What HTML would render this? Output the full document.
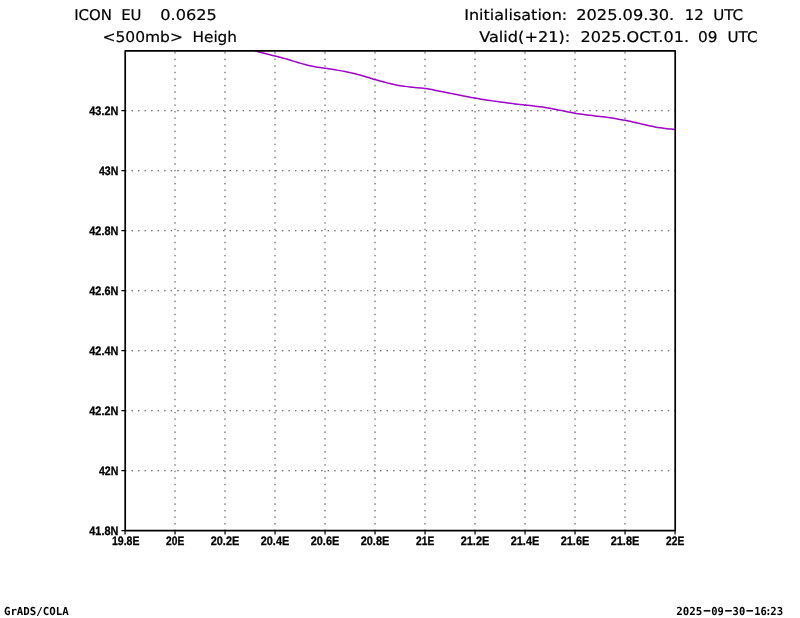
<!DOCTYPE html>
<html lang="en"><head><meta charset="utf-8"><title>ICON EU 500mb Height</title>
<style>
html,body{margin:0;padding:0;background:#fff;}
body{width:800px;height:618px;overflow:hidden;}
svg{display:block;}
text{font-family:"Liberation Sans",sans-serif;fill:#000;text-rendering:geometricPrecision;}
.t{font-size:14.7px;stroke:#000;stroke-width:0.2px;font-family:"DejaVu Sans","Liberation Sans",sans-serif;}
.a{font-size:12.2px;font-weight:bold;stroke:#000;stroke-width:0.3px;}
.f{font-size:11px;font-weight:bold;font-family:"DejaVu Sans Mono","Liberation Mono",monospace;}
</style></head><body>
<svg width="800" height="618" viewBox="0 0 800 618">
<rect width="800" height="618" fill="#fff"/>
<g stroke="#484848" stroke-width="1" stroke-dasharray="1.50 5.04" stroke-dashoffset="7.29" fill="none"><line x1="175.00" y1="530.30" x2="175.00" y2="50.90"/><line x1="225.00" y1="530.30" x2="225.00" y2="50.90"/><line x1="275.00" y1="530.30" x2="275.00" y2="50.90"/><line x1="325.00" y1="530.30" x2="325.00" y2="50.90"/><line x1="375.00" y1="530.30" x2="375.00" y2="50.90"/><line x1="425.00" y1="530.30" x2="425.00" y2="50.90"/><line x1="475.00" y1="530.30" x2="475.00" y2="50.90"/><line x1="525.00" y1="530.30" x2="525.00" y2="50.90"/><line x1="575.00" y1="530.30" x2="575.00" y2="50.90"/><line x1="625.00" y1="530.30" x2="625.00" y2="50.90"/><line x1="125.65" y1="470.75" x2="675.20" y2="470.75"/><line x1="125.65" y1="410.75" x2="675.20" y2="410.75"/><line x1="125.65" y1="350.75" x2="675.20" y2="350.75"/><line x1="125.65" y1="290.75" x2="675.20" y2="290.75"/><line x1="125.65" y1="230.75" x2="675.20" y2="230.75"/><line x1="125.65" y1="170.75" x2="675.20" y2="170.75"/><line x1="125.65" y1="110.75" x2="675.20" y2="110.75"/></g>
<path d="M255.00 50.80 C255.83 51.03 258.33 51.74 260.00 52.20 C261.67 52.66 263.33 53.12 265.00 53.55 C266.67 53.98 268.33 54.39 270.00 54.80 C271.67 55.21 273.33 55.59 275.00 56.00 C276.67 56.41 278.33 56.82 280.00 57.25 C281.67 57.68 283.33 58.13 285.00 58.60 C286.67 59.07 288.33 59.55 290.00 60.05 C291.67 60.55 293.33 61.08 295.00 61.60 C296.67 62.12 298.33 62.66 300.00 63.15 C301.67 63.64 303.33 64.12 305.00 64.55 C306.67 64.98 308.33 65.38 310.00 65.75 C311.67 66.12 313.33 66.45 315.00 66.75 C316.67 67.05 318.33 67.31 320.00 67.56 C321.67 67.81 323.33 68.02 325.00 68.25 C326.67 68.48 328.33 68.71 330.00 68.96 C331.67 69.22 333.33 69.50 335.00 69.78 C336.67 70.05 338.33 70.33 340.00 70.62 C341.67 70.92 343.33 71.22 345.00 71.55 C346.67 71.88 348.33 72.25 350.00 72.62 C351.67 73.00 353.33 73.40 355.00 73.80 C356.67 74.20 358.33 74.61 360.00 75.05 C361.67 75.49 363.33 75.96 365.00 76.45 C366.67 76.94 368.33 77.48 370.00 78.00 C371.67 78.52 373.33 79.05 375.00 79.55 C376.67 80.05 378.33 80.52 380.00 80.97 C381.67 81.43 383.33 81.86 385.00 82.29 C386.67 82.72 388.33 83.15 390.00 83.55 C391.67 83.95 393.33 84.36 395.00 84.71 C396.67 85.06 398.33 85.37 400.00 85.65 C401.67 85.93 403.33 86.15 405.00 86.38 C406.67 86.60 408.33 86.79 410.00 86.97 C411.67 87.16 413.33 87.33 415.00 87.50 C416.67 87.67 418.33 87.82 420.00 88.00 C421.67 88.18 423.33 88.35 425.00 88.58 C426.67 88.80 428.33 89.06 430.00 89.35 C431.67 89.64 433.33 89.97 435.00 90.30 C436.67 90.62 438.33 90.97 440.00 91.30 C441.67 91.63 443.33 91.97 445.00 92.30 C446.67 92.63 448.33 92.97 450.00 93.30 C451.67 93.63 453.33 93.95 455.00 94.27 C456.67 94.60 458.33 94.91 460.00 95.22 C461.67 95.54 463.33 95.87 465.00 96.19 C466.67 96.51 468.33 96.83 470.00 97.15 C471.67 97.47 473.33 97.78 475.00 98.09 C476.67 98.39 478.33 98.69 480.00 98.98 C481.67 99.26 483.33 99.52 485.00 99.78 C486.67 100.03 488.33 100.26 490.00 100.50 C491.67 100.74 493.33 100.97 495.00 101.20 C496.67 101.43 498.33 101.67 500.00 101.90 C501.67 102.13 503.33 102.37 505.00 102.60 C506.67 102.83 508.33 103.06 510.00 103.28 C511.67 103.49 513.33 103.70 515.00 103.90 C516.67 104.10 518.33 104.31 520.00 104.50 C521.67 104.69 523.33 104.88 525.00 105.06 C526.67 105.24 528.33 105.40 530.00 105.59 C531.67 105.77 533.33 105.96 535.00 106.16 C536.67 106.36 538.33 106.57 540.00 106.79 C541.67 107.00 543.33 107.21 545.00 107.45 C546.67 107.69 548.33 107.95 550.00 108.25 C551.67 108.55 553.33 108.89 555.00 109.23 C556.67 109.56 558.33 109.93 560.00 110.28 C561.67 110.62 563.33 110.97 565.00 111.30 C566.67 111.63 568.33 111.96 570.00 112.27 C571.67 112.59 573.33 112.89 575.00 113.17 C576.67 113.46 578.33 113.72 580.00 113.97 C581.67 114.22 583.33 114.45 585.00 114.67 C586.67 114.90 588.33 115.10 590.00 115.30 C591.67 115.50 593.33 115.70 595.00 115.90 C596.67 116.10 598.33 116.30 600.00 116.50 C601.67 116.70 603.33 116.90 605.00 117.11 C606.67 117.33 608.33 117.54 610.00 117.78 C611.67 118.01 613.33 118.27 615.00 118.54 C616.67 118.81 618.33 119.10 620.00 119.40 C621.67 119.70 623.33 120.00 625.00 120.33 C626.67 120.65 628.33 120.99 630.00 121.35 C631.67 121.71 633.33 122.10 635.00 122.47 C636.67 122.85 638.33 123.24 640.00 123.62 C641.67 124.01 643.33 124.40 645.00 124.78 C646.67 125.15 648.33 125.54 650.00 125.90 C651.67 126.26 653.33 126.63 655.00 126.95 C656.67 127.27 658.33 127.57 660.00 127.83 C661.67 128.08 663.33 128.28 665.00 128.47 C666.67 128.67 668.40 128.82 670.00 128.97 C671.60 129.13 673.83 129.33 674.60 129.40" fill="none" stroke="#a000c8" stroke-width="1.5" stroke-linejoin="round"/>
<rect x="125.20" y="50.90" width="550.00" height="479.70" fill="none" stroke="#000" stroke-width="1.7" stroke-linejoin="round"/>
<path d="M125.05 530.60 v3.9 M175.05 530.60 v3.9 M225.05 530.60 v3.9 M275.05 530.60 v3.9 M325.05 530.60 v3.9 M375.05 530.60 v3.9 M425.05 530.60 v3.9 M475.05 530.60 v3.9 M525.05 530.60 v3.9 M575.05 530.60 v3.9 M625.05 530.60 v3.9 M675.05 530.60 v3.9" stroke="#000" stroke-width="1.2" fill="none"/>
<path d="M125.20 530.60 h-3.8 M125.20 470.60 h-3.8 M125.20 410.60 h-3.8 M125.20 350.60 h-3.8 M125.20 290.60 h-3.8 M125.20 230.60 h-3.8 M125.20 170.60 h-3.8 M125.20 110.60 h-3.8" stroke="#000" stroke-width="1.4" fill="none"/>
<text class="t" y="19.95"><tspan x="74.20" textLength="37.80" lengthAdjust="spacingAndGlyphs">ICON</tspan> <tspan x="121.20" textLength="20.30" lengthAdjust="spacingAndGlyphs">EU</tspan> <tspan x="160.30" textLength="56.50" lengthAdjust="spacingAndGlyphs">0.0625</tspan></text>
<text class="t" y="41.95"><tspan x="102.50" textLength="80.40" lengthAdjust="spacingAndGlyphs">&lt;500mb&gt;</tspan> <tspan x="192.50" textLength="44.50" lengthAdjust="spacingAndGlyphs">Heigh</tspan></text>
<text class="t" y="19.95"><tspan x="464.20" textLength="103.00" lengthAdjust="spacingAndGlyphs">Initialisation:</tspan> <tspan x="576.20" textLength="98.00" lengthAdjust="spacingAndGlyphs">2025.09.30.</tspan> <tspan x="684.70" textLength="19.00" lengthAdjust="spacingAndGlyphs">12</tspan> <tspan x="713.20" textLength="30.00" lengthAdjust="spacingAndGlyphs">UTC</tspan></text>
<text class="t" y="41.95"><tspan x="479.20" textLength="91.00" lengthAdjust="spacingAndGlyphs">Valid(+21):</tspan> <tspan x="580.50" textLength="108.50" lengthAdjust="spacingAndGlyphs">2025.OCT.01.</tspan> <tspan x="698.00" textLength="19.50" lengthAdjust="spacingAndGlyphs">09</tspan> <tspan x="727.50" textLength="30.00" lengthAdjust="spacingAndGlyphs">UTC</tspan></text>
<text class="a" x="118.30" y="535.45" textLength="29.00" lengthAdjust="spacingAndGlyphs" text-anchor="end">41.8N</text>
<text class="a" x="118.30" y="475.45" textLength="19.30" lengthAdjust="spacingAndGlyphs" text-anchor="end">42N</text>
<text class="a" x="118.30" y="415.45" textLength="29.00" lengthAdjust="spacingAndGlyphs" text-anchor="end">42.2N</text>
<text class="a" x="118.30" y="355.45" textLength="29.00" lengthAdjust="spacingAndGlyphs" text-anchor="end">42.4N</text>
<text class="a" x="118.30" y="295.45" textLength="29.00" lengthAdjust="spacingAndGlyphs" text-anchor="end">42.6N</text>
<text class="a" x="118.30" y="235.45" textLength="29.00" lengthAdjust="spacingAndGlyphs" text-anchor="end">42.8N</text>
<text class="a" x="118.30" y="175.45" textLength="19.30" lengthAdjust="spacingAndGlyphs" text-anchor="end">43N</text>
<text class="a" x="118.30" y="115.45" textLength="29.00" lengthAdjust="spacingAndGlyphs" text-anchor="end">43.2N</text>
<text class="a" x="125.70" y="544.90" textLength="27.40" lengthAdjust="spacingAndGlyphs" text-anchor="middle">19.8E</text>
<text class="a" x="175.20" y="544.90" textLength="18.20" lengthAdjust="spacingAndGlyphs" text-anchor="middle">20E</text>
<text class="a" x="225.00" y="544.90" textLength="28.60" lengthAdjust="spacingAndGlyphs" text-anchor="middle">20.2E</text>
<text class="a" x="275.00" y="544.90" textLength="28.60" lengthAdjust="spacingAndGlyphs" text-anchor="middle">20.4E</text>
<text class="a" x="325.00" y="544.90" textLength="28.60" lengthAdjust="spacingAndGlyphs" text-anchor="middle">20.6E</text>
<text class="a" x="375.00" y="544.90" textLength="28.60" lengthAdjust="spacingAndGlyphs" text-anchor="middle">20.8E</text>
<text class="a" x="425.20" y="544.90" textLength="18.20" lengthAdjust="spacingAndGlyphs" text-anchor="middle">21E</text>
<text class="a" x="475.00" y="544.90" textLength="28.60" lengthAdjust="spacingAndGlyphs" text-anchor="middle">21.2E</text>
<text class="a" x="525.00" y="544.90" textLength="28.60" lengthAdjust="spacingAndGlyphs" text-anchor="middle">21.4E</text>
<text class="a" x="575.00" y="544.90" textLength="28.60" lengthAdjust="spacingAndGlyphs" text-anchor="middle">21.6E</text>
<text class="a" x="625.00" y="544.90" textLength="28.60" lengthAdjust="spacingAndGlyphs" text-anchor="middle">21.8E</text>
<text class="a" x="675.20" y="544.90" textLength="18.20" lengthAdjust="spacingAndGlyphs" text-anchor="middle">22E</text>
<text class="f" x="3.90" y="614.60" textLength="64.90" lengthAdjust="spacingAndGlyphs">GrADS/COLA</text>
<text class="f" y="614.6"><tspan x="676.3" textLength="26" lengthAdjust="spacingAndGlyphs">2025</tspan><tspan x="700.55" dy="-1.0" textLength="13" lengthAdjust="spacingAndGlyphs">-</tspan><tspan x="711.3" dy="1.0" textLength="12.6" lengthAdjust="spacingAndGlyphs">09</tspan><tspan x="722.0" dy="-1.0" textLength="13" lengthAdjust="spacingAndGlyphs">-</tspan><tspan x="732.6" dy="1.0" textLength="12.6" lengthAdjust="spacingAndGlyphs">30</tspan><tspan x="743.3" dy="-1.0" textLength="13" lengthAdjust="spacingAndGlyphs">-</tspan><tspan x="754.2" dy="1.0" textLength="12.6" lengthAdjust="spacingAndGlyphs">16</tspan><tspan x="765.3" textLength="6.2" lengthAdjust="spacingAndGlyphs">:</tspan><tspan x="770.3" textLength="12.8" lengthAdjust="spacingAndGlyphs">23</tspan></text>
</svg></body></html>
